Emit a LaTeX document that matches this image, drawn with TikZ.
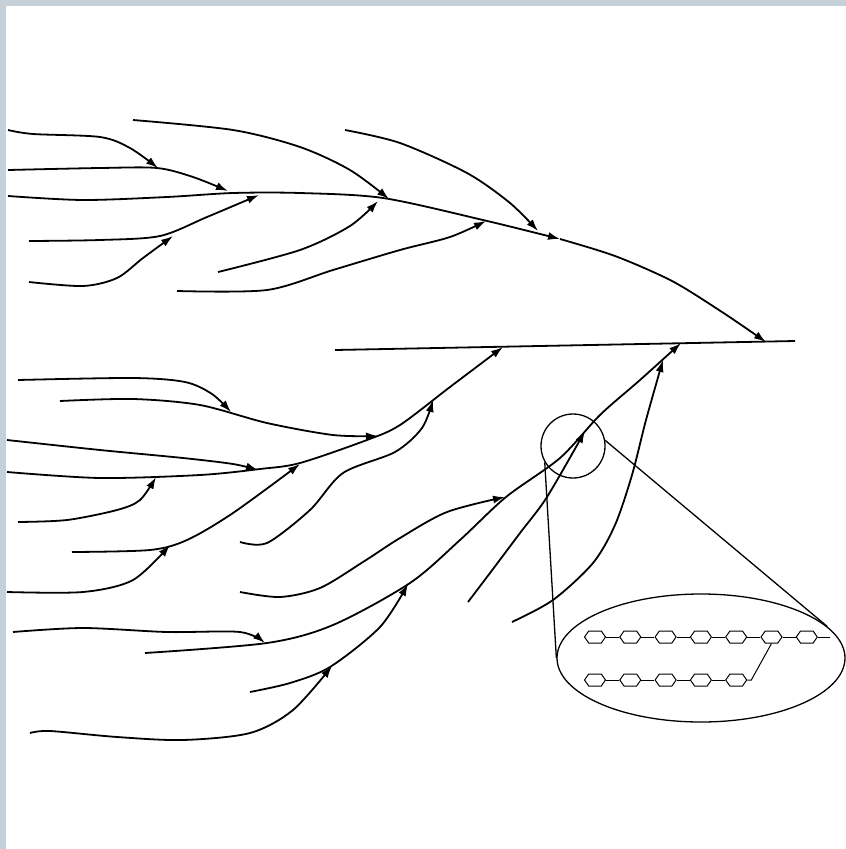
\documentclass[tikz,border=0pt]{standalone}
\usetikzlibrary{arrows.meta,shapes.geometric,shapes.symbols}
\definecolor{frame}{RGB}{197,208,216}
\tikzset{
  stream/.style={line width=1.8pt},
  flow/.style={stream, -{Latex[length=12pt,width=8pt]}},
  lens/.style={draw, line width=1.3pt, inner sep=0pt},
  ring/.style={draw, line width=1pt, fill=white, shape=signal, signal to=east and west,
    signal pointer angle=110, minimum width=21pt, minimum height=12pt, inner sep=0pt}
}
\begin{document}
\begin{tikzpicture}[x=1pt,y=-1pt]
\useasboundingbox (0,0) rectangle (846,849);
\fill[frame] (0,0) rectangle (846,849);
\fill[white] (6,6) rectangle (846,849);
% upper branch
\coordinate (j1) at (158,168);
\coordinate (j2) at (228,191);
\coordinate (j3) at (259,195);
\coordinate (j4) at (173,236);
\coordinate (j5) at (389,199);
\coordinate (j6) at (378,201);
\coordinate (j7) at (538,231);
\coordinate (j8) at (486,221);
\coordinate (j9) at (560,239);
\coordinate (h0) at (335,350);
\coordinate (h1) at (795,341);
\coordinate (j10) at (766,342);
\coordinate (k1) at (503,347);
\coordinate (k2) at (681,343);
\draw[flow] plot[smooth] coordinates {(8,196) (83,200) (167,197) (233,193) (300,193) (383,198) (483,220) (j9)};
\draw[flow] plot[smooth] coordinates {(j9) (615,256) (672,281) (722,312) (j10)};
\draw[flow] plot[smooth] coordinates {(8,130) (33,134) (100,137) (130,148) (j1)};
\draw[flow] plot[smooth] coordinates {(8,170) (100,168) (157,168) (193,177) (j2)};
\draw[flow] plot[smooth] coordinates {(29,241) (100,240) (160,236) (207,217) (j3)};
\draw[flow] plot[smooth] coordinates {(29,282) (83,286) (117,278) (143,258) (j4)};
\draw[flow] plot[smooth] coordinates {(133,120) (233,130) (300,147) (350,170) (j5)};
\draw[flow] plot[smooth] coordinates {(218,272) (300,250) (350,226) (j6)};
\draw[flow] plot[smooth] coordinates {(345,130) (400,143) (467,173) (510,203) (j7)};
\draw[flow] plot[smooth] coordinates {(177,291) (267,290) (333,270) (400,250) (450,237) (j8)};
\draw[stream] (h0) -- (h1);
% lower left branch
\coordinate (m1) at (231,412);
\coordinate (m2) at (378,436);
\coordinate (m3) at (258,470);
\coordinate (m4) at (156,477);
\coordinate (m5) at (300,464);
\coordinate (m6) at (170,545);
\coordinate (m7) at (433,400);
\draw[flow] plot[smooth] coordinates {(7,472) (100,478) (200,475) (260,469) (300,463) (367,440) (400,425) (450,387) (k1)};
\draw[flow] plot[smooth] coordinates {(18,380) (133,378) (185,382) (212,394) (m1)};
\draw[flow] plot[smooth] coordinates {(60,401) (133,399) (200,405) (267,423) (333,435) (m2)};
\draw[flow] plot[smooth] coordinates {(7,440) (100,450) (183,458) (233,464) (m3)};
\draw[flow] plot[smooth] coordinates {(18,522) (67,520) (117,510) (140,500) (m4)};
\draw[flow] plot[smooth] coordinates {(72,552) (150,550) (187,540) (233,513) (m5)};
\draw[flow] plot[smooth] coordinates {(7,592) (83,592) (133,580) (m6)};
\draw[flow] plot[smooth] coordinates {(240,542) (267,543) (310,510) (343,473) (395,452) (422,428) (m7)};
% lower right branch
\coordinate (r1) at (505,497);
\coordinate (r2) at (265,643);
\coordinate (r3) at (408,584);
\coordinate (r4) at (332,666);
\coordinate (r5) at (585,431);
\coordinate (r6) at (663,360);
\draw[flow] plot[smooth] coordinates {(145,653) (267,643) (333,625) (410,583) (460,540) (506,497) (560,458) (600,415) (640,380) (k2)};
\draw[flow] plot[smooth] coordinates {(240,592) (280,597) (320,588) (363,562) (400,538) (447,512) (r1)};
\draw[flow] plot[smooth] coordinates {(13,632) (83,628) (167,632) (240,632) (r2)};
\draw[flow] plot[smooth] coordinates {(250,692) (290,683) (330,667) (380,627) (r3)};
\draw[flow] plot[smooth] coordinates {(30,733) (50,731) (117,737) (183,740) (250,733) (293,710) (r4)};
\draw[flow] plot[smooth] coordinates {(468,602) (490,573) (520,533) (547,497) (r5)};
\draw[flow] plot[smooth] coordinates {(512,622) (553,600) (593,563) (615,525) (632,475) (646,420) (r6)};
% magnified part
\node[lens, circle, minimum size=64pt] (spot) at (573,446) {};
\node[lens, ellipse, minimum width=288pt, minimum height=128pt] (zoomed) at (701,658) {};
\draw[line width=1.3pt] (spot.210) -- (zoomed.west);
\draw[line width=1.3pt] (spot.10) -- (zoomed.14);
\foreach \i in {1,...,7}
  \node[ring] (t\i) at ({595+35.3*(\i-1)},637) {};
\foreach \i in {1,...,5}
  \node[ring] (b\i) at ({595+35.3*(\i-1)},680) {};
\coordinate (tend) at (830,637);
\foreach \i [count=\j from 2] in {1,...,6}
  \draw[line width=1pt] (t\i) -- (t\j);
\foreach \i [count=\j from 2] in {1,...,4}
  \draw[line width=1pt] (b\i) -- (b\j);
\draw[line width=1pt] (t7) -- (tend);
\draw[line width=1pt] (b5.east) -- ++(4,0) -- (t6.south);
\end{tikzpicture}
\end{document}
